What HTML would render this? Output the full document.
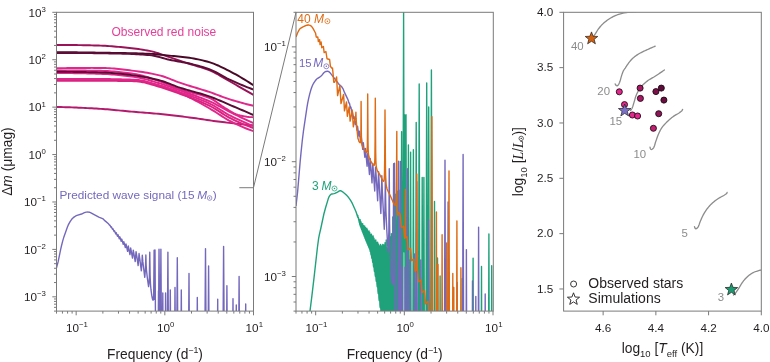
<!DOCTYPE html><html><head><meta charset="utf-8"><style>html,body{margin:0;padding:0;background:#fff;}svg{display:block;will-change:transform;}</style></head><body><svg width="770" height="362" viewBox="0 0 770 362" style="font-family:'Liberation Sans',sans-serif" fill="#231f20">
<defs>
<clipPath id="c1"><rect x="56.5" y="12.3" width="197.0" height="298.8"/></clipPath>
<clipPath id="c2"><rect x="296.0" y="12.3" width="197.3" height="298.8"/></clipPath>
<clipPath id="c3"><rect x="563.6" y="12.3" width="197.69999999999993" height="298.8"/></clipPath>
</defs>
<g clip-path="url(#c1)" fill="none" stroke-width="1.95" stroke-linecap="round">
<path d="M56.5,44.9 L58.71,44.9 L60.93,44.91 L63.14,44.92 L65.35,44.93 L67.57,44.95 L69.78,44.98 L71.99,45 L74.21,45.03 L76.42,45.07 L78.63,45.1 L80.85,45.14 L83.06,45.19 L85.28,45.23 L87.49,45.28 L89.7,45.33 L91.92,45.38 L94.13,45.44 L96.34,45.5 L98.56,45.56 L100.77,45.62 L102.98,45.71 L105.2,45.83 L107.41,45.96 L109.62,46.12 L111.84,46.29 L114.05,46.47 L116.26,46.67 L118.48,46.86 L120.69,47.06 L122.9,47.27 L125.12,47.49 L127.33,47.71 L129.54,47.96 L131.76,48.21 L133.97,48.48 L136.19,48.77 L138.4,49.07 L140.61,49.39 L142.83,49.74 L145.04,50.1 L147.25,50.49 L149.47,50.9 L151.68,51.36 L153.89,51.92 L156.11,52.58 L158.32,53.29 L160.53,54.06 L162.75,54.85 L164.96,55.65 L167.17,56.44 L169.39,57.2 L171.6,57.92 L173.81,58.65 L176.03,59.38 L178.24,60.11 L180.46,60.84 L182.67,61.58 L184.88,62.31 L187.1,63.05 L189.31,63.77 L191.52,64.49 L193.74,65.17 L195.95,65.84 L198.16,66.5 L200.38,67.16 L202.59,67.85 L204.8,68.58 L207.02,69.35 L209.23,70.19 L211.44,71.12 L213.66,72.16 L215.87,73.3 L218.08,74.52 L220.3,75.79 L222.51,77.1 L224.72,78.42 L226.94,79.73 L229.15,81.02 L231.37,82.27 L233.58,83.52 L235.79,84.77 L238.01,86.03 L240.22,87.3 L242.43,88.57 L244.65,89.84 L246.86,91.12 L249.07,92.41 L251.29,93.7 L253.5,95" stroke="#9a1258"/>
<path d="M56.5,52.2 L58.71,52.21 L60.93,52.22 L63.14,52.23 L65.35,52.24 L67.57,52.26 L69.78,52.28 L71.99,52.3 L74.21,52.32 L76.42,52.34 L78.63,52.36 L80.85,52.39 L83.06,52.41 L85.28,52.44 L87.49,52.47 L89.7,52.5 L91.92,52.53 L94.13,52.57 L96.34,52.6 L98.56,52.63 L100.77,52.67 L102.98,52.71 L105.2,52.74 L107.41,52.78 L109.62,52.82 L111.84,52.86 L114.05,52.89 L116.26,52.93 L118.48,52.97 L120.69,53.01 L122.9,53.05 L125.12,53.09 L127.33,53.14 L129.54,53.18 L131.76,53.23 L133.97,53.28 L136.19,53.33 L138.4,53.39 L140.61,53.46 L142.83,53.53 L145.04,53.6 L147.25,53.69 L149.47,53.78 L151.68,53.89 L153.89,54.03 L156.11,54.22 L158.32,54.43 L160.53,54.66 L162.75,54.9 L164.96,55.15 L167.17,55.4 L169.39,55.64 L171.6,55.86 L173.81,56.08 L176.03,56.29 L178.24,56.51 L180.46,56.73 L182.67,56.97 L184.88,57.22 L187.1,57.5 L189.31,57.8 L191.52,58.13 L193.74,58.51 L195.95,58.92 L198.16,59.37 L200.38,59.85 L202.59,60.38 L204.8,60.94 L207.02,61.54 L209.23,62.17 L211.44,62.86 L213.66,63.65 L215.87,64.53 L218.08,65.49 L220.3,66.52 L222.51,67.59 L224.72,68.7 L226.94,69.83 L229.15,70.97 L231.37,72.1 L233.58,73.27 L235.79,74.47 L238.01,75.71 L240.22,76.98 L242.43,78.29 L244.65,79.63 L246.86,81 L249.07,82.4 L251.29,83.84 L253.5,85.3" stroke="#4a0828"/>
<path d="M56.5,52.9 L58.71,52.9 L60.93,52.9 L63.14,52.91 L65.35,52.92 L67.57,52.92 L69.78,52.94 L71.99,52.95 L74.21,52.96 L76.42,52.98 L78.63,53 L80.85,53.02 L83.06,53.04 L85.28,53.06 L87.49,53.08 L89.7,53.11 L91.92,53.14 L94.13,53.17 L96.34,53.2 L98.56,53.23 L100.77,53.26 L102.98,53.3 L105.2,53.33 L107.41,53.37 L109.62,53.41 L111.84,53.45 L114.05,53.49 L116.26,53.53 L118.48,53.57 L120.69,53.61 L122.9,53.67 L125.12,53.73 L127.33,53.8 L129.54,53.88 L131.76,53.98 L133.97,54.08 L136.19,54.2 L138.4,54.33 L140.61,54.47 L142.83,54.62 L145.04,54.78 L147.25,54.96 L149.47,55.15 L151.68,55.39 L153.89,55.77 L156.11,56.24 L158.32,56.8 L160.53,57.4 L162.75,58.03 L164.96,58.65 L167.17,59.24 L169.39,59.77 L171.6,60.23 L173.81,60.65 L176.03,61.05 L178.24,61.44 L180.46,61.83 L182.67,62.22 L184.88,62.64 L187.1,63.07 L189.31,63.54 L191.52,64.05 L193.74,64.59 L195.95,65.15 L198.16,65.73 L200.38,66.35 L202.59,67.01 L204.8,67.7 L207.02,68.44 L209.23,69.22 L211.44,70.07 L213.66,71.06 L215.87,72.17 L218.08,73.35 L220.3,74.59 L222.51,75.85 L224.72,77.09 L226.94,78.28 L229.15,79.4 L231.37,80.43 L233.58,81.43 L235.79,82.42 L238.01,83.39 L240.22,84.34 L242.43,85.27 L244.65,86.18 L246.86,87.07 L249.07,87.94 L251.29,88.78 L253.5,89.6" stroke="#5e0c38"/>
<path d="M56.5,107 L58.71,107.03 L60.93,107.07 L63.14,107.12 L65.35,107.18 L67.57,107.25 L69.78,107.32 L71.99,107.4 L74.21,107.48 L76.42,107.57 L78.63,107.67 L80.85,107.77 L83.06,107.88 L85.28,107.99 L87.49,108.1 L89.7,108.22 L91.92,108.34 L94.13,108.46 L96.34,108.59 L98.56,108.72 L100.77,108.85 L102.98,108.99 L105.2,109.16 L107.41,109.34 L109.62,109.53 L111.84,109.74 L114.05,109.95 L116.26,110.17 L118.48,110.39 L120.69,110.61 L122.9,110.83 L125.12,111.05 L127.33,111.26 L129.54,111.46 L131.76,111.65 L133.97,111.83 L136.19,112.01 L138.4,112.19 L140.61,112.36 L142.83,112.54 L145.04,112.71 L147.25,112.89 L149.47,113.07 L151.68,113.25 L153.89,113.44 L156.11,113.64 L158.32,113.84 L160.53,114.05 L162.75,114.27 L164.96,114.5 L167.17,114.74 L169.39,114.98 L171.6,115.24 L173.81,115.49 L176.03,115.75 L178.24,116.02 L180.46,116.29 L182.67,116.57 L184.88,116.85 L187.1,117.13 L189.31,117.41 L191.52,117.7 L193.74,118 L195.95,118.31 L198.16,118.64 L200.38,118.96 L202.59,119.29 L204.8,119.63 L207.02,119.96 L209.23,120.29 L211.44,120.61 L213.66,120.92 L215.87,121.22 L218.08,121.51 L220.3,121.79 L222.51,122.06 L224.72,122.34 L226.94,122.61 L229.15,122.87 L231.37,123.13 L233.58,123.39 L235.79,123.64 L238.01,123.89 L240.22,124.13 L242.43,124.37 L244.65,124.61 L246.86,124.84 L249.07,125.07 L251.29,125.29 L253.5,125.5" stroke="#b3196d"/>
<path d="M56.5,80 L58.71,80 L60.93,80 L63.14,80 L65.35,80 L67.57,80 L69.78,80 L71.99,80 L74.21,80 L76.42,80 L78.63,80 L80.85,80 L83.06,80 L85.28,80 L87.49,80 L89.7,80 L91.92,80 L94.13,80 L96.34,80 L98.56,80 L100.77,80 L102.98,80 L105.2,80.01 L107.41,80.02 L109.62,80.04 L111.84,80.06 L114.05,80.08 L116.26,80.11 L118.48,80.14 L120.69,80.18 L122.9,80.22 L125.12,80.26 L127.33,80.31 L129.54,80.36 L131.76,80.41 L133.97,80.47 L136.19,80.55 L138.4,80.74 L140.61,81.04 L142.83,81.43 L145.04,81.89 L147.25,82.42 L149.47,83 L151.68,83.62 L153.89,84.26 L156.11,84.9 L158.32,85.53 L160.53,86.15 L162.75,86.78 L164.96,87.46 L167.17,88.18 L169.39,88.93 L171.6,89.72 L173.81,90.54 L176.03,91.4 L178.24,92.28 L180.46,93.19 L182.67,94.14 L184.88,95.15 L187.1,96.2 L189.31,97.3 L191.52,98.43 L193.74,99.59 L195.95,100.78 L198.16,102 L200.38,103.23 L202.59,104.48 L204.8,105.74 L207.02,107 L209.23,108.26 L211.44,109.54 L213.66,110.89 L215.87,112.3 L218.08,113.74 L220.3,115.19 L222.51,116.62 L224.72,118 L226.94,119.33 L229.15,120.56 L231.37,121.69 L233.58,122.8 L235.79,123.87 L238.01,124.92 L240.22,125.93 L242.43,126.91 L244.65,127.85 L246.86,128.76 L249.07,129.62 L251.29,130.43 L253.5,131.2" stroke="#e1278b"/>
<path d="M56.5,80.8 L58.71,80.8 L60.93,80.8 L63.14,80.8 L65.35,80.8 L67.57,80.8 L69.78,80.8 L71.99,80.8 L74.21,80.8 L76.42,80.8 L78.63,80.8 L80.85,80.8 L83.06,80.8 L85.28,80.8 L87.49,80.8 L89.7,80.8 L91.92,80.8 L94.13,80.8 L96.34,80.8 L98.56,80.8 L100.77,80.8 L102.98,80.8 L105.2,80.81 L107.41,80.82 L109.62,80.83 L111.84,80.85 L114.05,80.86 L116.26,80.89 L118.48,80.91 L120.69,80.94 L122.9,80.97 L125.12,81.01 L127.33,81.04 L129.54,81.08 L131.76,81.13 L133.97,81.18 L136.19,81.25 L138.4,81.44 L140.61,81.75 L142.83,82.17 L145.04,82.67 L147.25,83.24 L149.47,83.86 L151.68,84.51 L153.89,85.19 L156.11,85.86 L158.32,86.52 L160.53,87.15 L162.75,87.8 L164.96,88.49 L167.17,89.21 L169.39,89.96 L171.6,90.74 L173.81,91.53 L176.03,92.34 L178.24,93.15 L180.46,93.97 L182.67,94.78 L184.88,95.6 L187.1,96.42 L189.31,97.25 L191.52,98.09 L193.74,98.94 L195.95,99.82 L198.16,100.71 L200.38,101.63 L202.59,102.58 L204.8,103.56 L207.02,104.57 L209.23,105.62 L211.44,106.74 L213.66,107.98 L215.87,109.32 L218.08,110.73 L220.3,112.17 L222.51,113.61 L224.72,115.01 L226.94,116.34 L229.15,117.56 L231.37,118.68 L233.58,119.76 L235.79,120.81 L238.01,121.84 L240.22,122.83 L242.43,123.79 L244.65,124.71 L246.86,125.6 L249.07,126.44 L251.29,127.24 L253.5,128" stroke="#d8237f"/>
<path d="M56.5,79 L58.71,79 L60.93,79 L63.14,79 L65.35,79 L67.57,79 L69.78,79 L71.99,79 L74.21,79 L76.42,79 L78.63,79 L80.85,79 L83.06,79 L85.28,79 L87.49,79 L89.7,79 L91.92,79 L94.13,79 L96.34,79 L98.56,79 L100.77,79 L102.98,79.01 L105.2,79.02 L107.41,79.04 L109.62,79.06 L111.84,79.1 L114.05,79.14 L116.26,79.18 L118.48,79.23 L120.69,79.29 L122.9,79.35 L125.12,79.42 L127.33,79.5 L129.54,79.58 L131.76,79.66 L133.97,79.76 L136.19,79.87 L138.4,80.09 L140.61,80.41 L142.83,80.83 L145.04,81.32 L147.25,81.87 L149.47,82.46 L151.68,83.09 L153.89,83.74 L156.11,84.39 L158.32,85.03 L160.53,85.65 L162.75,86.29 L164.96,86.97 L167.17,87.68 L169.39,88.43 L171.6,89.2 L173.81,89.98 L176.03,90.77 L178.24,91.57 L180.46,92.36 L182.67,93.15 L184.88,93.93 L187.1,94.71 L189.31,95.5 L191.52,96.29 L193.74,97.1 L195.95,97.93 L198.16,98.77 L200.38,99.64 L202.59,100.54 L204.8,101.47 L207.02,102.43 L209.23,103.44 L211.44,104.51 L213.66,105.71 L215.87,107 L218.08,108.35 L220.3,109.75 L222.51,111.15 L224.72,112.52 L226.94,113.83 L229.15,115.06 L231.37,116.19 L233.58,117.29 L235.79,118.37 L238.01,119.43 L240.22,120.45 L242.43,121.46 L244.65,122.43 L246.86,123.37 L249.07,124.28 L251.29,125.16 L253.5,126" stroke="#e1278b"/>
<path d="M56.5,73 L58.71,73 L60.93,73.01 L63.14,73.02 L65.35,73.04 L67.57,73.06 L69.78,73.09 L71.99,73.12 L74.21,73.16 L76.42,73.19 L78.63,73.24 L80.85,73.28 L83.06,73.33 L85.28,73.38 L87.49,73.44 L89.7,73.5 L91.92,73.56 L94.13,73.62 L96.34,73.69 L98.56,73.76 L100.77,73.83 L102.98,73.91 L105.2,74.02 L107.41,74.14 L109.62,74.28 L111.84,74.44 L114.05,74.62 L116.26,74.81 L118.48,75.02 L120.69,75.25 L122.9,75.48 L125.12,75.73 L127.33,76 L129.54,76.27 L131.76,76.56 L133.97,76.86 L136.19,77.18 L138.4,77.56 L140.61,78.01 L142.83,78.52 L145.04,79.08 L147.25,79.68 L149.47,80.31 L151.68,80.97 L153.89,81.64 L156.11,82.31 L158.32,82.99 L160.53,83.66 L162.75,84.36 L164.96,85.09 L167.17,85.85 L169.39,86.64 L171.6,87.44 L173.81,88.25 L176.03,89.06 L178.24,89.87 L180.46,90.66 L182.67,91.44 L184.88,92.21 L187.1,92.97 L189.31,93.73 L191.52,94.49 L193.74,95.26 L195.95,96.04 L198.16,96.83 L200.38,97.64 L202.59,98.48 L204.8,99.34 L207.02,100.23 L209.23,101.17 L211.44,102.15 L213.66,103.22 L215.87,104.35 L218.08,105.54 L220.3,106.76 L222.51,107.99 L224.72,109.21 L226.94,110.41 L229.15,111.57 L231.37,112.68 L233.58,113.78 L235.79,114.87 L238.01,115.94 L240.22,117.01 L242.43,118.07 L244.65,119.12 L246.86,120.16 L249.07,121.18 L251.29,122.2 L253.5,123.2" stroke="#e1278b"/>
<path d="M56.5,70.4 L58.71,70.4 L60.93,70.4 L63.14,70.41 L65.35,70.42 L67.57,70.43 L69.78,70.44 L71.99,70.45 L74.21,70.47 L76.42,70.49 L78.63,70.51 L80.85,70.53 L83.06,70.56 L85.28,70.58 L87.49,70.61 L89.7,70.64 L91.92,70.67 L94.13,70.7 L96.34,70.74 L98.56,70.78 L100.77,70.81 L102.98,70.88 L105.2,70.96 L107.41,71.07 L109.62,71.2 L111.84,71.36 L114.05,71.53 L116.26,71.73 L118.48,71.94 L120.69,72.17 L122.9,72.42 L125.12,72.68 L127.33,72.95 L129.54,73.24 L131.76,73.54 L133.97,73.85 L136.19,74.19 L138.4,74.61 L140.61,75.12 L142.83,75.7 L145.04,76.35 L147.25,77.05 L149.47,77.79 L151.68,78.56 L153.89,79.34 L156.11,80.13 L158.32,80.92 L160.53,81.69 L162.75,82.5 L164.96,83.36 L167.17,84.27 L169.39,85.2 L171.6,86.13 L173.81,87.05 L176.03,87.94 L178.24,88.78 L180.46,89.55 L182.67,90.26 L184.88,90.91 L187.1,91.51 L189.31,92.08 L191.52,92.63 L193.74,93.18 L195.95,93.73 L198.16,94.3 L200.38,94.9 L202.59,95.55 L204.8,96.25 L207.02,97.02 L209.23,97.88 L211.44,98.88 L213.66,100.17 L215.87,101.66 L218.08,103.26 L220.3,104.89 L222.51,106.44 L224.72,107.84 L226.94,109.13 L229.15,110.47 L231.37,111.79 L233.58,113.03 L235.79,114.11 L238.01,114.97 L240.22,115.54 L242.43,115.97 L244.65,116.36 L246.86,116.7 L249.07,116.97 L251.29,117.14 L253.5,117.2" stroke="#e1278b"/>
<path d="M56.5,71.8 L58.71,71.8 L60.93,71.81 L63.14,71.82 L65.35,71.83 L67.57,71.85 L69.78,71.86 L71.99,71.89 L74.21,71.91 L76.42,71.94 L78.63,71.97 L80.85,72.01 L83.06,72.04 L85.28,72.08 L87.49,72.12 L89.7,72.17 L91.92,72.21 L94.13,72.26 L96.34,72.31 L98.56,72.36 L100.77,72.42 L102.98,72.5 L105.2,72.59 L107.41,72.72 L109.62,72.86 L111.84,73.02 L114.05,73.2 L116.26,73.39 L118.48,73.6 L120.69,73.83 L122.9,74.06 L125.12,74.31 L127.33,74.56 L129.54,74.83 L131.76,75.1 L133.97,75.37 L136.19,75.65 L138.4,75.97 L140.61,76.31 L142.83,76.69 L145.04,77.1 L147.25,77.53 L149.47,77.99 L151.68,78.48 L153.89,78.99 L156.11,79.52 L158.32,80.07 L160.53,80.64 L162.75,81.29 L164.96,82.04 L167.17,82.84 L169.39,83.69 L171.6,84.56 L173.81,85.44 L176.03,86.29 L178.24,87.1 L180.46,87.85 L182.67,88.55 L184.88,89.22 L187.1,89.86 L189.31,90.49 L191.52,91.1 L193.74,91.71 L195.95,92.32 L198.16,92.94 L200.38,93.56 L202.59,94.21 L204.8,94.89 L207.02,95.59 L209.23,96.33 L211.44,97.12 L213.66,97.97 L215.87,98.86 L218.08,99.79 L220.3,100.75 L222.51,101.73 L224.72,102.71 L226.94,103.68 L229.15,104.64 L231.37,105.58 L233.58,106.51 L235.79,107.45 L238.01,108.39 L240.22,109.33 L242.43,110.27 L244.65,111.22 L246.86,112.16 L249.07,113.11 L251.29,114.05 L253.5,115" stroke="#5a0b35"/>
<path d="M56.5,68.3 L58.71,68.24 L60.93,68.19 L63.14,68.14 L65.35,68.1 L67.57,68.07 L69.78,68.03 L71.99,68.01 L74.21,67.98 L76.42,67.96 L78.63,67.95 L80.85,67.93 L83.06,67.92 L85.28,67.92 L87.49,67.91 L89.7,67.91 L91.92,67.9 L94.13,67.9 L96.34,67.9 L98.56,67.9 L100.77,67.9 L102.98,67.94 L105.2,68.01 L107.41,68.11 L109.62,68.24 L111.84,68.4 L114.05,68.59 L116.26,68.8 L118.48,69.02 L120.69,69.26 L122.9,69.52 L125.12,69.78 L127.33,70.05 L129.54,70.33 L131.76,70.6 L133.97,70.87 L136.19,71.15 L138.4,71.44 L140.61,71.75 L142.83,72.08 L145.04,72.44 L147.25,72.82 L149.47,73.23 L151.68,73.66 L153.89,74.11 L156.11,74.59 L158.32,75.1 L160.53,75.63 L162.75,76.26 L164.96,77 L167.17,77.81 L169.39,78.67 L171.6,79.56 L173.81,80.46 L176.03,81.34 L178.24,82.18 L180.46,82.95 L182.67,83.69 L184.88,84.4 L187.1,85.1 L189.31,85.78 L191.52,86.46 L193.74,87.13 L195.95,87.79 L198.16,88.46 L200.38,89.13 L202.59,89.82 L204.8,90.51 L207.02,91.22 L209.23,91.94 L211.44,92.7 L213.66,93.49 L215.87,94.3 L218.08,95.14 L220.3,95.98 L222.51,96.81 L224.72,97.62 L226.94,98.4 L229.15,99.13 L231.37,99.82 L233.58,100.5 L235.79,101.16 L238.01,101.8 L240.22,102.43 L242.43,103.04 L244.65,103.63 L246.86,104.21 L249.07,104.76 L251.29,105.29 L253.5,105.8" stroke="#e1278b"/>
</g>
<g clip-path="url(#c1)" fill="none" stroke="#7468bd" stroke-width="1.4" stroke-linejoin="round"><path d="M56.5,267.7 L58.1,261.9 L60.62,249.6 L61.5,245.76 L62.74,240.88 L63.9,236.92 L67.42,227.03 L68.18,225.18 L69.1,223.32 L70.1,221.59 L71.3,219.83 L72.34,218.56 L73.3,217.64 L74.34,216.85 L75.74,215.98 L77.02,215.36 L81.58,214.03 L84.38,212.68 L85.34,212.32 L86.14,212.16 L88.3,212.07 L89.3,212.21 L90.46,212.63 L98.82,217.08 L102.58,218.67 L103.42,219.21 L105.1,220.9 L108.46,223.78 L108.94,224.36 L109.46,225.21 L109.9,225.16 L110.94,227.2 L111.39,226.85 L112.46,229.23 L112.94,228.78 L114.06,231.54 L114.55,230.77 L115.74,233.93 L116.23,232.72 L117.46,236.35 L118,234.71 L119.3,238.78 L119.84,236.81 L121.18,241.38 L121.78,239.07 L123.22,244.32 L123.82,241.59 L125.34,247.56 L125.98,243.91 L127.58,251.3 L128.26,246 L129.94,254.66 L130.69,248.06 L132.5,258.16 L133.29,250.09 L135.22,261.51 L136.06,251.62 L137.1,258.03 L138.14,265.56 L139.06,253.5 L141.34,270.81 L141.98,261.88 L142.31,255.2 L142.86,261.89 L144.78,277.31 L145.5,268.07 L145.86,255.07 L146.14,264.73 L146.46,270 L147.42,278.53 L148.58,286.56 L149.1,282.17 L149.38,277.33 L149.76,252.28 L150.1,274.98 L150.46,283.88 L150.98,289.71 L151.7,295.15 L152.42,298.86 L152.74,299.78 L153.02,300.18 L153.14,300.15 L153.26,299.9 L153.46,298.58 L153.7,293.2 L154.12,250.25 L154.42,285.4 L154.66,299.4 L155,250 L155.42,310.72 L155.98,314.23 L156.86,318.51 L157.42,320.63 L157.62,321.12 L157.82,321.32 L157.98,321.14 L158.1,320.66 L158.3,318.67 L158.5,291 L158.62,306.69 L159.02,249.2 L159.54,313.79 L159.86,325.53 L160.34,332.3 L160.9,249.3 L161.5,339.48 L162.46,343.21 L162.8,293 L163.3,368.46 L165.1,368.46 L165.6,293 L166.1,368.46 L167.14,368.46 L167.9,252.3 L168.66,368.46 L169.78,368.46 L170.3,290 L170.82,368.46 L174.46,368.46 L175,287.5 L175.54,368.46 L176.58,368.46 L177.3,257.7 L178.02,368.46 L180.78,368.46 L181.3,290 L181.82,368.46 L188.38,368.46 L189,273.5 L189.62,368.46 L196.82,368.46 L197.3,297.4 L197.78,368.46 L204.7,368.46 L205.5,248.8 L206.3,368.46 L207.94,368.46 L208.6,266 L209.26,368.46 L217.22,368.46 L217.26,368.35 L217.7,299.3 L218.14,368.35 L218.18,368.46 L222.82,368.46 L223.6,246.4 L224.38,368.46 L226.34,368.46 L226.38,367.3 L226.9,285.7 L227.46,368.46 L232.54,368.46 L233,298.6 L233.46,368.46 L235.86,368.46 L235.9,367.77 L236.3,305 L236.7,367.77 L236.74,368.46 L238.5,368.46 L239.1,276.5 L239.7,368.46 L245.26,368.46 L245.7,304 L246.14,368.46 L254.46,368.46"/></g>
<g clip-path="url(#c2)" fill="none" stroke-width="1.4" stroke-linejoin="round">
<path d="M300,433.22 L301.6,405.52 L303.2,381.05 L304.84,359.22 L306.48,340.56 L308.12,324.97 L310,311 L311.96,295.33 L314.04,277.65 L317.44,247.26 L318.64,238.35 L319.32,234.8 L320.84,228.27 L323.88,213.98 L325.64,207.54 L328.16,199.09 L328.86,197.16 L330.08,195.24 L330.64,194.61 L331.16,194.21 L331.96,193.94 L333.96,193.6 L334.84,193.36 L337.48,192.11 L339.44,190.92 L340.08,190.72 L340.64,190.73 L341.52,191.06 L342.6,191.8 L345.24,193.93 L347.16,195.84 L348.64,197.57 L349.76,199.11 L351.04,201.15 L352.44,203.67 L355.92,211.54 L356.76,213.93 L357.68,217.01 L357.78,215.4 L357.92,216.66 L358.2,217.84 L358.28,217.86 L358.36,217.13 L358.48,218.87 L358.76,220.19 L358.84,220.26 L358.88,220.02 L358.95,218.9 L359.08,221.34 L359.32,222.55 L359.4,222.71 L359.44,222.63 L359.55,220.62 L359.64,223.27 L359.88,224.91 L359.96,224.98 L360.04,224.51 L360.15,219.72 L360.28,225.34 L360.48,226.5 L360.56,226.59 L360.6,226.53 L360.68,225.71 L360.77,221.41 L360.88,226.69 L360.96,227.57 L361.12,228.16 L361.2,228.21 L361.28,227.81 L361.39,223.07 L361.52,228.57 L361.72,229.73 L361.84,229.86 L361.92,229.43 L362.03,224.71 L362.16,230.01 L362.24,230.89 L362.4,231.48 L362.48,231.48 L362.56,230.88 L362.68,223.73 L362.8,231.54 L362.88,232.52 L363.04,233.15 L363.12,233.21 L363.16,233.11 L363.24,232.12 L363.34,225.33 L363.44,232.79 L363.52,234.08 L363.68,234.83 L363.76,234.95 L363.84,234.8 L363.92,233.51 L364.01,226.92 L364.12,234.79 L364.2,235.9 L364.4,236.66 L364.52,236.44 L364.6,234.76 L364.69,225.92 L364.76,234.16 L364.88,237.56 L365.08,238.41 L365.16,238.4 L365.24,237.9 L365.38,227.55 L365.52,238.49 L365.68,239.84 L365.84,240.12 L365.92,239.86 L366.09,229.22 L366.2,239.51 L366.28,240.9 L366.48,241.78 L366.56,241.81 L366.64,241.44 L366.72,239.36 L366.81,228.3 L366.88,238.48 L367,242.53 L367.24,243.57 L367.32,243.5 L367.4,242.85 L367.54,229.99 L367.68,243.42 L367.88,245.14 L368.04,245.34 L368.12,244.99 L368.29,231.72 L368.4,244.36 L368.52,246.4 L368.72,247.14 L368.8,247.13 L368.88,246.7 L368.96,244.39 L369.05,230.89 L369.12,242.6 L369.24,247.73 L369.48,248.98 L369.56,249.01 L369.6,248.93 L369.68,248.24 L369.83,232.75 L369.96,248.49 L370.12,250.79 L370.32,251.65 L370.4,251.66 L370.44,251.47 L370.56,246.4 L370.62,234.71 L370.76,251.85 L370.88,253.81 L371.12,254.98 L371.2,254.97 L371.24,254.76 L371.32,253.01 L371.43,234.16 L371.6,255.73 L371.72,257.37 L371.88,258.24 L371.96,258.43 L372.04,258.32 L372.12,257.29 L372.26,236.28 L372.4,258.28 L372.52,260.78 L372.8,262.5 L372.88,262.48 L372.92,262.21 L373,259.94 L373.11,235.87 L373.28,263.54 L373.4,265.56 L373.64,267 L373.72,267.03 L373.76,266.84 L373.84,265.2 L373.97,238.15 L374.12,267.01 L374.24,269.83 L374.52,271.67 L374.6,271.69 L374.68,270.98 L374.76,267.2 L374.86,240.4 L375,271.19 L375.16,274.88 L375.44,276.46 L375.52,276.32 L375.6,275.13 L375.68,269.07 L375.77,240.07 L375.92,276.22 L376.08,279.77 L376.36,281.35 L376.44,281.21 L376.52,280.08 L376.6,274.58 L376.69,242.47 L376.84,280.44 L376.96,284.03 L377.12,285.81 L377.32,286.91 L377.4,286.77 L377.48,285.38 L377.56,277.44 L377.64,242.23 L377.8,286.76 L377.96,291.26 L378.28,293.65 L378.36,293.51 L378.44,292.2 L378.52,285.9 L378.62,244.29 L378.76,291.98 L378.92,297.79 L379.08,299.6 L379.28,300.6 L379.44,298.83 L379.52,291.76 L379.62,245.83 L379.76,298.01 L379.92,304.65 L380.08,306.6 L380.28,307.69 L380.36,307.54 L380.44,306.34 L380.52,301.35 L380.65,244.56 L380.8,305.7 L380.96,312.25 L381.12,314.43 L381.32,315.75 L381.44,315.36 L381.52,313.19 L381.6,303.83 L381.7,245.86 L381.84,311.55 L382,320.38 L382.16,322.94 L382.4,324.58 L382.52,323.97 L382.6,321.43 L382.68,311.17 L382.79,244.33 L382.96,322.92 L383.12,330.09 L383.32,333.19 L383.52,334.56 L383.64,333.78 L383.72,330.62 L383.8,317.76 L383.9,244.93 L384.08,333.08 L384.28,341.93 L384.44,344.37 L384.64,345.83 L384.76,345.22 L384.84,342.7 L384.92,333.6 L385.05,242.74 L385.2,338.4 L385.36,351.27 L385.56,355.46 L385.8,357.46 L385.92,356.96 L386.24,239.89 L386.8,450 L386.92,450 L386.96,437.76 L387.46,248 L388,450 L388.12,450 L388.16,449.28 L388.72,235.73 L389.28,447.77 L389.32,450 L389.44,450 L389.48,444.73 L390.03,236.71 L390.56,439.09 L390.6,450 L390.8,450 L391.38,233.58 L391.92,439.28 L391.96,450 L392.16,450 L392.78,217.03 L393.4,450 L393.56,450 L393.6,449.21 L394.23,208.93 L394.84,439.84 L394.88,450 L395.04,450 L395.74,194.17 L396.4,443.99 L396.44,450 L396.6,450 L397.31,191.18 L398,450 L398.24,450 L398.95,190.08 L399.64,450 L400,450 L400.67,205.78 L401.04,344.4 L401.6,131.6 L402.44,450 L403.6,12 L404.24,251.8 L404.6,115 L405.28,373.4 L406,114.7 L406.92,450 L407.56,450 L407.6,448.9 L408.4,144.9 L409.2,448.9 L409.24,450 L409.8,450 L410.6,152.3 L411.4,450 L412.6,450 L413.4,149.8 L414.2,450 L415.32,450 L416.2,122.5 L417.08,450 L418.2,450 L419.2,84 L420.16,448.8 L420.2,450 L421.48,450 L422.2,177.5 L422.92,450 L423.16,450 L423.9,177.5 L424.64,450 L425.72,450 L426.7,83 L427.68,450 L427.76,450 L427.8,449 L428.7,107 L429.6,449 L429.64,450 L430.4,450 L431.4,70 L432.4,450 L433.84,450 L434.5,201.5 L435.16,450 L436.96,450 L437,448 L437.5,258 L438.04,450 L439.64,450 L440.1,276 L440.56,450 L461.72,450 L462.2,278.5 L462.68,450 L472.56,450 L473.1,258.1 L473.64,450 L481,450 L481.5,266.5 L482,450 L488.32,450 L488.9,234 L489.48,450 L491.2,450 L491.7,265.8 L492.2,450 L493.96,450" stroke="#1fa27a"/>
<path d="M296,206 L297.6,191.96 L300.12,162.18 L301,152.86 L302.24,141.05 L303.4,131.47 L306.92,107.53 L307.68,103.04 L308.6,98.54 L309.6,94.36 L310.8,90.07 L311.84,87 L312.8,84.79 L313.84,82.86 L315.24,80.77 L316.52,79.27 L317.68,78.31 L320.08,76.8 L321.08,76.05 L321.92,75.17 L323.88,72.78 L324.84,71.89 L325.64,71.51 L327.8,71.3 L328.28,71.38 L328.8,71.63 L329.96,72.66 L338.32,83.43 L339.2,84.43 L341.2,86.29 L342.08,87.27 L342.92,88.58 L344.6,92.67 L347.96,99.66 L348.44,101.05 L348.96,103.11 L349.16,103.16 L349.4,102.99 L350.44,107.93 L350.89,107.09 L351.96,112.85 L352.44,111.75 L353.56,118.44 L354.05,116.57 L355.24,124.24 L355.73,121.29 L356.96,130.09 L357.5,126.13 L358.8,135.96 L359.34,131.2 L360.68,142.27 L361.28,136.69 L362.72,149.39 L363.32,142.79 L364.84,157.24 L365.48,148.39 L367.08,166.3 L367.76,153.45 L369.44,174.43 L370.19,158.44 L372,182.91 L372.79,163.36 L374.72,191.02 L375.56,167.08 L376.6,182.59 L377.64,200.83 L378.56,171.63 L380.84,213.52 L381.48,191.9 L381.81,175.73 L382.36,191.93 L384.28,229.28 L385,206.89 L385.36,175.42 L385.64,198.81 L385.96,211.58 L386.92,232.22 L388.08,251.69 L388.6,241.04 L388.88,229.32 L389.26,168.66 L389.6,223.63 L389.96,245.2 L390.48,259.3 L391.2,272.47 L391.92,281.45 L392.24,283.68 L392.52,284.66 L392.64,284.59 L392.76,283.98 L392.96,280.79 L393.2,267.75 L393.62,163.76 L393.92,248.87 L394.16,282.76 L394.5,163.14 L394.92,310.18 L395.48,318.68 L396.36,329.05 L396.92,334.18 L397.12,335.37 L397.32,335.86 L397.48,335.41 L397.6,334.25 L397.8,329.43 L398,262.43 L398.12,300.42 L398.52,161.21 L399.04,317.62 L399.36,346.03 L399.84,362.44 L400.4,161.45 L401,379.81 L401.96,388.86 L402.3,267.27 L402.8,450 L404.6,450 L405.1,267.27 L405.6,450 L406.64,450 L407.4,168.71 L408.16,450 L409.28,450 L409.8,260.01 L410.32,450 L413.96,450 L414.5,253.95 L415.04,450 L416.08,450 L416.8,181.79 L417.52,450 L420.28,450 L420.8,260.01 L421.32,450 L427.88,450 L428.5,220.05 L429.12,450 L436.32,450 L436.8,277.92 L437.28,450 L444.2,450 L445,160.24 L445.8,450 L447.44,450 L448.1,201.89 L448.76,450 L456.72,450 L456.76,449.73 L457.2,282.53 L457.64,449.73 L457.68,450 L462.32,450 L463.1,154.43 L463.88,450 L465.84,450 L465.88,447.19 L466.4,249.59 L466.96,450 L472.04,450 L472.5,280.83 L472.96,450 L475.36,450 L475.4,448.33 L475.8,296.33 L476.2,448.33 L476.24,450 L478,450 L478.6,227.31 L479.2,450 L484.76,450 L485.2,293.91 L485.64,450 L493.96,450" stroke="#7468bd"/>
<path d="M296,36.9 L297.76,32.49 L298.72,30.64 L299.48,29.42 L300,28.8 L300.84,28.1 L303.4,26.61 L304.68,26.02 L306.96,25.21 L308,25.01 L308.88,25.05 L310.16,25.41 L310.88,25.78 L311.76,26.69 L312.84,28.15 L315.6,33.26 L316.28,37.08 L317.08,37.25 L317.8,37 L318.36,41.63 L318.88,40.94 L319.6,39.67 L320.04,44.6 L321.1,42 L321.8,47.75 L322.48,47.11 L323.4,46.5 L324.16,52.58 L325.9,51.5 L327,58.72 L329.6,59.5 L330.48,66.76 L331,66.85 L331.44,67.73 L331.84,68.17 L332.16,68.25 L332.5,68 L333.08,73.79 L333.76,82.08 L334.16,82.38 L334.52,82.33 L335.48,80.19 L336.6,77 L337.6,95.67 L339.9,85.5 L341,103.61 L343.6,94.5 L344.48,110.89 L346.5,102 L347.32,116.24 L349.2,107 L350.12,121.09 L351.2,115.81 L352.2,110 L353.32,126.75 L354.2,122.57 L355,118.15 L355.68,116.29 L355.9,112.2 L356.12,118.4 L356.48,123.91 L357.04,130.2 L358,138.84 L358.28,139.12 L358.52,139.63 L359,141.48 L359.84,142.55 L360.08,142.73 L360.28,142.75 L360.52,142.31 L360.68,141.15 L360.8,138.76 L360.96,126.95 L361.1,101.4 L361.36,134.3 L361.48,139.45 L361.68,142.88 L362.04,145.08 L362.72,146.83 L364.64,149.96 L366.4,152.23 L366.64,152.33 L366.8,152.22 L367.08,151.09 L367.36,145.18 L367.52,130.46 L367.7,94 L368,140.97 L368.16,148.95 L368.4,153.47 L368.6,155.21 L368.92,156.82 L369.36,158.25 L370,159.84 L372.24,163.55 L373.08,164.73 L373.64,165.32 L373.96,165.45 L374.2,165.3 L374.52,164.26 L374.72,162.18 L374.88,158.06 L375.08,141.84 L375.3,98.1 L375.68,151.64 L375.88,160.68 L376.16,165.56 L376.6,168.52 L377.32,170.65 L378.32,172.49 L380,175 L382.16,179.47 L382.8,180.57 L383.28,181.16 L383.56,181.27 L383.8,181.07 L384.12,179.8 L384.36,176.82 L384.52,172.07 L384.72,156.81 L385,110 L385.44,166.67 L385.68,177.45 L386.08,184.02 L386.6,187.24 L387,188.67 L387.52,190.06 L388.48,192.13 L390,194.98 L393.4,202.69 L394.2,204.22 L394.8,205.06 L395.12,205.23 L395.36,205.1 L395.56,204.69 L395.76,203.75 L396.04,200.62 L396.24,195.26 L396.48,178 L396.8,131.5 L397,202.17 L397.16,209.83 L397.32,212.21 L397.52,213.69 L397.96,215.65 L398,213.62 L398.16,212.66 L398.32,212.38 L398.56,212.45 L398.84,212.35 L399.12,212.55 L400.3,214.61 L401.28,227.02 L401.32,227.14 L401.84,227.17 L402.52,227.09 L403,226.81 L403.6,226.15 L404.6,238.07 L404.64,238.31 L405.24,237.86 L405.4,189.4 L405.56,237.62 L407,236.74 L408.08,249.58 L410.5,248.59 L411.56,260.64 L414,259.2 L415.04,271.04 L415.08,271.13 L416.52,270.19 L416.8,173.9 L417.08,269.8 L417.5,269.51 L418.56,281.72 L419.8,280.92 L421,279.94 L422.04,292.61 L422.08,292.7 L422.64,292.24 L424.5,290.46 L425.56,303.73 L428,301.21 L429.08,314.79 L430.44,313.47 L431.36,312.83 L431.9,116.6 L432.48,326.62 L435.96,339.85 L436,364 L436.4,212 L437.04,450 L437.48,450 L437.52,446.9 L438,264.5 L438.52,450 L441.52,450 L442.1,234.7 L442.68,450 L446.12,450 L446.16,448.1 L446.7,242.9 L447.24,448.1 L447.28,450 L448.24,450 L449,171 L449.76,450 L452.32,450 L452.8,273.4 L453.28,450 L453.36,450 L453.4,439.4 L453.8,287.4 L454.24,450 L456.28,450 L456.9,221 L457.52,450 L460.4,450 L460.9,267.8 L461.4,450 L493.96,450" stroke="#df6a12"/>
</g>
<g fill="none" stroke="#7a7a7a" stroke-width="1">
<rect x="56.5" y="12.3" width="197" height="298.8"/>
<rect x="296.0" y="12.3" width="197.3" height="298.8"/>
<rect x="563.6" y="12.3" width="197.7" height="298.8"/>
<path d="M56.5,311.1v2.5M62.44,311.1v2.5M67.58,311.1v2.5M72.11,311.1v2.5M76.17,311.1v4.2M102.86,311.1v2.5M118.47,311.1v2.5M129.55,311.1v2.5M138.14,311.1v2.5M145.16,311.1v2.5M151.1,311.1v2.5M156.24,311.1v2.5M160.78,311.1v2.5M164.84,311.1v4.2M191.53,311.1v2.5M207.14,311.1v2.5M218.22,311.1v2.5M226.81,311.1v2.5M233.83,311.1v2.5M239.77,311.1v2.5M244.91,311.1v2.5M249.44,311.1v2.5M253.5,311.1v4.2M296,311.1v2.5M301.94,311.1v2.5M307.08,311.1v2.5M311.61,311.1v2.5M315.67,311.1v4.2M342.36,311.1v2.5M357.97,311.1v2.5M369.05,311.1v2.5M377.64,311.1v2.5M384.66,311.1v2.5M390.6,311.1v2.5M395.74,311.1v2.5M400.28,311.1v2.5M404.34,311.1v4.2M431.03,311.1v2.5M446.64,311.1v2.5M457.72,311.1v2.5M466.31,311.1v2.5M473.33,311.1v2.5M479.27,311.1v2.5M484.41,311.1v2.5M488.94,311.1v2.5M493,311.1v4.2M56.5,311.1h-2.5M56.5,307.35h-2.5M56.5,304.17h-2.5M56.5,301.42h-2.5M56.5,298.99h-2.5M56.5,296.82h-4.2M56.5,282.55h-2.5M56.5,274.2h-2.5M56.5,268.27h-2.5M56.5,263.68h-2.5M56.5,259.92h-2.5M56.5,256.75h-2.5M56.5,254h-2.5M56.5,251.57h-2.5M56.5,249.4h-4.2M56.5,235.13h-2.5M56.5,226.78h-2.5M56.5,220.85h-2.5M56.5,216.26h-2.5M56.5,212.5h-2.5M56.5,209.33h-2.5M56.5,206.58h-2.5M56.5,204.15h-2.5M56.5,201.98h-4.2M56.5,187.71h-2.5M56.5,179.36h-2.5M56.5,173.43h-2.5M56.5,168.84h-2.5M56.5,165.08h-2.5M56.5,161.91h-2.5M56.5,159.16h-2.5M56.5,156.73h-2.5M56.5,154.56h-4.2M56.5,140.29h-2.5M56.5,131.94h-2.5M56.5,126.01h-2.5M56.5,121.42h-2.5M56.5,117.66h-2.5M56.5,114.49h-2.5M56.5,111.74h-2.5M56.5,109.31h-2.5M56.5,107.14h-4.2M56.5,92.87h-2.5M56.5,84.52h-2.5M56.5,78.59h-2.5M56.5,74h-2.5M56.5,70.24h-2.5M56.5,67.07h-2.5M56.5,64.32h-2.5M56.5,61.89h-2.5M56.5,59.72h-4.2M56.5,45.45h-2.5M56.5,37.1h-2.5M56.5,31.17h-2.5M56.5,26.58h-2.5M56.5,22.82h-2.5M56.5,19.65h-2.5M56.5,16.9h-2.5M56.5,14.47h-2.5M56.5,12.3h-4.2M296,311.1h-2.5M296,302.01h-2.5M296,294.32h-2.5M296,287.66h-2.5M296,281.79h-2.5M296,276.53h-4.2M296,241.96h-2.5M296,221.74h-2.5M296,207.4h-2.5M296,196.27h-2.5M296,187.18h-2.5M296,179.49h-2.5M296,172.83h-2.5M296,166.95h-2.5M296,161.7h-4.2M296,127.13h-2.5M296,106.91h-2.5M296,92.56h-2.5M296,81.44h-2.5M296,72.34h-2.5M296,64.66h-2.5M296,58h-2.5M296,52.12h-2.5M296,46.87h-4.2M296,12.3h-2.5M603.14,311.1v4.2M655.86,311.1v4.2M708.58,311.1v4.2M761.3,311.1v4.2M563.6,288.97h-4.2M563.6,233.63h-4.2M563.6,178.3h-4.2M563.6,122.97h-4.2M563.6,67.63h-4.2M563.6,12.3h-4.2"/>
<path d="M239.3,187.71H253.5L296.0,12.3"/>
</g>
<g font-size="11.7">
<text x="45.8" y="301.02" text-anchor="end" font-size="11.7">10<tspan dy="-4.8" font-size="7.8">−3</tspan></text>
<text x="45.8" y="253.6" text-anchor="end" font-size="11.7">10<tspan dy="-4.8" font-size="7.8">−2</tspan></text>
<text x="45.8" y="206.18" text-anchor="end" font-size="11.7">10<tspan dy="-4.8" font-size="7.8">−1</tspan></text>
<text x="45.8" y="158.76" text-anchor="end" font-size="11.7">10<tspan dy="-4.8" font-size="7.8">0</tspan></text>
<text x="45.8" y="111.34" text-anchor="end" font-size="11.7">10<tspan dy="-4.8" font-size="7.8">1</tspan></text>
<text x="45.8" y="63.92" text-anchor="end" font-size="11.7">10<tspan dy="-4.8" font-size="7.8">2</tspan></text>
<text x="45.8" y="16.5" text-anchor="end" font-size="11.7">10<tspan dy="-4.8" font-size="7.8">3</tspan></text>
<text x="285.8" y="51.07" text-anchor="end" font-size="11.7">10<tspan dy="-4.8" font-size="7.8">−1</tspan></text>
<text x="285.8" y="165.9" text-anchor="end" font-size="11.7">10<tspan dy="-4.8" font-size="7.8">−2</tspan></text>
<text x="285.8" y="280.73" text-anchor="end" font-size="11.7">10<tspan dy="-4.8" font-size="7.8">−3</tspan></text>
<text x="76.97" y="331.9" text-anchor="middle" font-size="11.7">10<tspan dy="-4.8" font-size="7.8">−1</tspan></text>
<text x="316.47" y="331.9" text-anchor="middle" font-size="11.7">10<tspan dy="-4.8" font-size="7.8">−1</tspan></text>
<text x="165.64" y="331.9" text-anchor="middle" font-size="11.7">10<tspan dy="-4.8" font-size="7.8">0</tspan></text>
<text x="405.14" y="331.9" text-anchor="middle" font-size="11.7">10<tspan dy="-4.8" font-size="7.8">0</tspan></text>
<text x="254.3" y="331.9" text-anchor="middle" font-size="11.7">10<tspan dy="-4.8" font-size="7.8">1</tspan></text>
<text x="493.8" y="331.9" text-anchor="middle" font-size="11.7">10<tspan dy="-4.8" font-size="7.8">1</tspan></text>
<text x="603.14" y="332.1" text-anchor="middle">4.6</text>
<text x="655.86" y="332.1" text-anchor="middle">4.4</text>
<text x="708.58" y="332.1" text-anchor="middle">4.2</text>
<text x="761.3" y="332.1" text-anchor="middle">4.0</text>
<text x="553.3" y="292.77" text-anchor="end">1.5</text>
<text x="553.3" y="237.43" text-anchor="end">2.0</text>
<text x="553.3" y="182.1" text-anchor="end">2.5</text>
<text x="553.3" y="126.77" text-anchor="end">3.0</text>
<text x="553.3" y="71.43" text-anchor="end">3.5</text>
<text x="553.3" y="16.1" text-anchor="end">4.0</text>
</g>
<g font-size="13.8">
<text transform="translate(11.8,161.6) rotate(-90)" text-anchor="middle">Δ<tspan font-style="italic">m</tspan> (μmag)</text>
<text x="155" y="358.5" text-anchor="middle">Frequency (d<tspan dy="-5.5" font-size="8.8">−1</tspan><tspan dy="5.5">)</tspan></text>
<text x="394.65" y="358.5" text-anchor="middle">Frequency (d<tspan dy="-5.5" font-size="8.8">−1</tspan><tspan dy="5.5">)</tspan></text>
<text x="662.45" y="352.9" text-anchor="middle">log<tspan dy="3.8" font-size="9.5">10</tspan><tspan dy="-3.8"> [</tspan><tspan font-style="italic">T</tspan><tspan dy="3.8" font-size="9.5">eff</tspan><tspan dy="-3.8"> (K)]</tspan></text>
<text transform="translate(522.9,161.6) rotate(-90)" text-anchor="middle">log<tspan dy="3.8" font-size="9.5">10</tspan><tspan dy="-3.8"> [</tspan><tspan font-family="Liberation Serif" font-style="italic">L</tspan>/<tspan font-family="Liberation Serif" font-style="italic">L</tspan><tspan font-size="9.5"> </tspan>)]</text>
</g>
<circle cx="521.2" cy="138.4" r="2.2" fill="none" stroke="#231f20" stroke-width="0.7"/><circle cx="521.2" cy="138.4" r="0.66" fill="#231f20"/>
<text x="111.5" y="36.2" font-size="12" fill="#e6409a">Observed red noise</text>
<g font-size="11.8" fill="#7468bd"><text x="59.4" y="198.8">Predicted wave signal (15</text><text x="197.2" y="198.8" font-style="italic">M</text><text x="212.8" y="198.8">)</text></g>
<circle cx="209.6" cy="198" r="2.3" fill="none" stroke="#7468bd" stroke-width="0.7"/><circle cx="209.6" cy="198" r="0.69" fill="#7468bd"/>
<g font-size="12"><text x="297.3" y="22.6" fill="#df6a12">40</text><text x="314" y="22.6" fill="#df6a12" font-style="italic">M</text><text x="299" y="67.2" fill="#7468bd" font-size="11.3">15</text><text x="313.2" y="67.2" fill="#7468bd" font-style="italic">M</text><text x="312" y="189.7" fill="#1fa27a">3</text><text x="321.6" y="189.7" fill="#1fa27a" font-style="italic">M</text></g>
<circle cx="327.4" cy="21.2" r="2.5" fill="none" stroke="#df6a12" stroke-width="0.75"/><circle cx="327.4" cy="21.2" r="0.75" fill="#df6a12"/>
<circle cx="326.3" cy="66.3" r="2.5" fill="none" stroke="#7468bd" stroke-width="0.75"/><circle cx="326.3" cy="66.3" r="0.75" fill="#7468bd"/>
<circle cx="334.5" cy="188.5" r="2.5" fill="none" stroke="#1fa27a" stroke-width="0.75"/><circle cx="334.5" cy="188.5" r="0.75" fill="#1fa27a"/>
<g clip-path="url(#c3)" fill="none" stroke="#8c8c8c" stroke-width="1.3" stroke-linecap="round">
<path d="M591.5,38.4 L592.15,37.73 L592.78,37.05 L593.4,36.36 L593.99,35.65 L594.56,34.92 L595.09,34.17 L595.6,33.4 L596.08,32.61 L596.56,31.81 L597.05,31.02 L597.55,30.24 L598.08,29.49 L598.63,28.74 L599.19,27.99 L599.76,27.26 L600.35,26.53 L600.95,25.83 L601.57,25.15 L602.2,24.49 L602.87,23.85 L603.55,23.22 L604.25,22.61 L604.96,22.01 L605.69,21.42 L606.43,20.86 L607.18,20.31 L607.93,19.78 L608.69,19.27 L609.47,18.76 L610.25,18.26 L611.05,17.77 L611.86,17.31 L612.68,16.86 L613.51,16.44 L614.34,16.05 L615.18,15.68 L616.03,15.33 L616.89,14.99 L617.76,14.67 L618.64,14.36 L619.53,14.06 L620.42,13.79 L621.32,13.55 L622.21,13.33 L623.11,13.14 L624.02,12.96 L624.93,12.81 L625.85,12.67 L626.77,12.54 L627.69,12.43 L628.61,12.34 L629.53,12.25 L630.45,12.16 L631.37,12.08 L632.3,12 L633.22,11.93 L634.15,11.88 L635.07,11.83 L636,11.8"/>
<path d="M615.2,83.9 L615.6,84.87 L616.4,85.55 L617.28,85.78 L618,85.29 L618.65,84.36 L619.21,83.27 L619.65,82.28 L620,81.35 L620.3,80.37 L620.56,79.37 L620.81,78.36 L621.08,77.35 L621.38,76.37 L621.69,75.38 L622,74.4 L622.33,73.42 L622.68,72.45 L623.06,71.51 L623.5,70.61 L624.04,69.74 L624.63,68.89 L625.23,68.05 L625.8,67.19 L626.36,66.33 L626.93,65.47 L627.5,64.62 L628.08,63.77 L628.68,62.94 L629.31,62.14 L629.95,61.34 L630.62,60.55 L631.31,59.78 L632.01,59.03 L632.74,58.31 L633.49,57.63 L634.27,56.98 L635.08,56.35 L635.92,55.75 L636.77,55.16 L637.64,54.6 L638.51,54.05 L639.39,53.53 L640.28,53.04 L641.18,52.56 L642.1,52.1 L643.03,51.65 L643.96,51.21 L644.89,50.78 L645.82,50.34 L646.75,49.91 L647.68,49.48 L648.61,49.05 L649.54,48.63 L650.48,48.21 L651.42,47.8 L652.36,47.39 L653.31,46.99 L654.25,46.59 L655.2,46.2"/>
<path d="M630.5,110.5 L631.1,109.77 L631.65,109.01 L632.09,108.21 L632.45,107.38 L632.77,106.51 L633.05,105.61 L633.32,104.71 L633.58,103.8 L633.85,102.9 L634.12,102.01 L634.39,101.11 L634.64,100.21 L634.89,99.31 L635.15,98.41 L635.41,97.52 L635.7,96.63 L636.01,95.76 L636.36,94.9 L636.73,94.05 L637.13,93.2 L637.56,92.36 L638,91.54 L638.46,90.73 L638.94,89.94 L639.45,89.16 L639.99,88.39 L640.55,87.64 L641.13,86.9 L641.73,86.18 L642.34,85.48 L642.97,84.81 L643.62,84.16 L644.3,83.51 L645,82.89 L645.72,82.28 L646.45,81.69 L647.19,81.12 L647.94,80.57 L648.7,80.05 L649.48,79.55 L650.28,79.07 L651.09,78.6 L651.9,78.13 L652.71,77.67 L653.52,77.2 L654.32,76.71 L655.1,76.22 L655.89,75.71 L656.67,75.21 L657.45,74.7 L658.23,74.19 L659.01,73.68 L659.79,73.16 L660.56,72.64 L661.33,72.12 L662.1,71.6 L662.87,71.07 L663.64,70.54 L664.4,70"/>
<path d="M650,147.2 L650.34,148.52 L650.8,149.35 L651.36,149.6 L652.18,149.24 L653.02,148.59 L653.53,147.94 L653.94,147.19 L654.29,146.35 L654.59,145.44 L654.88,144.48 L655.15,143.51 L655.42,142.55 L655.72,141.63 L656.04,140.75 L656.35,139.86 L656.65,138.97 L656.96,138.08 L657.27,137.19 L657.6,136.31 L657.94,135.44 L658.29,134.58 L658.67,133.72 L659.05,132.85 L659.46,131.99 L659.87,131.14 L660.31,130.3 L660.76,129.48 L661.23,128.68 L661.73,127.91 L662.26,127.15 L662.83,126.41 L663.43,125.68 L664.05,124.97 L664.7,124.27 L665.35,123.58 L666,122.9 L666.66,122.24 L667.32,121.58 L668,120.92 L668.69,120.28 L669.38,119.64 L670.09,119.02 L670.81,118.41 L671.53,117.81 L672.27,117.23 L673.01,116.66 L673.77,116.13 L674.56,115.62 L675.37,115.14 L676.19,114.66 L677.01,114.19 L677.82,113.72 L678.62,113.22 L679.39,112.7 L680.15,112.14 L680.95,111.57 L681.69,110.96 L682.26,110.27 L682.6,109.4"/>
<path d="M694.5,226.7 L694.92,227.88 L695.42,228.59 L695.98,228.79 L696.72,228.43 L697.49,227.76 L698.01,227.1 L698.43,226.39 L698.78,225.6 L699.09,224.75 L699.38,223.88 L699.67,223 L699.98,222.14 L700.32,221.32 L700.67,220.51 L701.02,219.69 L701.37,218.88 L701.72,218.07 L702.09,217.27 L702.46,216.47 L702.85,215.68 L703.26,214.9 L703.68,214.13 L704.12,213.36 L704.57,212.6 L705.04,211.85 L705.52,211.1 L706.01,210.37 L706.52,209.65 L707.03,208.95 L707.57,208.25 L708.12,207.56 L708.69,206.88 L709.28,206.21 L709.87,205.55 L710.48,204.91 L711.1,204.28 L711.73,203.67 L712.37,203.08 L713.03,202.5 L713.71,201.93 L714.39,201.37 L715.09,200.82 L715.8,200.29 L716.52,199.77 L717.24,199.26 L717.97,198.76 L718.7,198.28 L719.45,197.82 L720.22,197.39 L721,196.97 L721.79,196.55 L722.57,196.13 L723.35,195.71 L724.12,195.27 L724.86,194.81 L725.58,194.31 L726.36,193.79 L726.91,193.17 L727.1,192.3"/>
<path d="M733.5,295 L734.04,294.51 L734.56,294.01 L735.06,293.49 L735.53,292.96 L735.99,292.41 L736.42,291.83 L736.84,291.25 L737.25,290.65 L737.65,290.05 L738.05,289.44 L738.44,288.84 L738.84,288.23 L739.22,287.62 L739.59,287 L739.95,286.37 L740.31,285.75 L740.67,285.12 L741.04,284.5 L741.41,283.88 L741.8,283.28 L742.2,282.68 L742.62,282.11 L743.05,281.53 L743.49,280.96 L743.94,280.39 L744.41,279.82 L744.88,279.27 L745.36,278.73 L745.86,278.2 L746.36,277.69 L746.87,277.19 L747.4,276.71 L747.93,276.24 L748.49,275.78 L749.05,275.32 L749.63,274.86 L750.22,274.42 L750.82,274 L751.43,273.6 L752.04,273.22 L752.67,272.87 L753.3,272.54 L753.93,272.25 L754.58,271.98 L755.25,271.73 L755.92,271.49 L756.61,271.26 L757.31,271.05 L758,270.84 L758.71,270.64 L759.41,270.44 L760.11,270.25 L760.81,270.05 L761.5,269.86 L762.2,269.68 L762.9,269.5 L763.6,269.33 L764.3,269.16 L765,269"/>
</g>
<g font-size="11.4" fill="#8c8c8c">
<text x="571" y="50">40</text>
<text x="597.3" y="95.3">20</text>
<text x="609.4" y="124.8">15</text>
<text x="633.5" y="157.6">10</text>
<text x="681.5" y="237.3">5</text>
<text x="717.8" y="300.9">3</text>
</g>
<circle cx="619.3" cy="91.8" r="3.05" fill="#e1278b" stroke="#1a0510" stroke-width="0.85"/>
<circle cx="640.1" cy="88.1" r="3.05" fill="#a51a62" stroke="#1a0510" stroke-width="0.85"/>
<circle cx="640.4" cy="98.4" r="3.05" fill="#a51a62" stroke="#1a0510" stroke-width="0.85"/>
<circle cx="655.9" cy="91.6" r="3.05" fill="#7a1248" stroke="#1a0510" stroke-width="0.85"/>
<circle cx="661.3" cy="88.1" r="3.05" fill="#5c0c39" stroke="#1a0510" stroke-width="0.85"/>
<circle cx="663.9" cy="100.1" r="3.05" fill="#6a0e3f" stroke="#1a0510" stroke-width="0.85"/>
<circle cx="624.5" cy="104.6" r="3.05" fill="#e1278b" stroke="#1a0510" stroke-width="0.85"/>
<circle cx="632.4" cy="115" r="3.05" fill="#e1278b" stroke="#1a0510" stroke-width="0.85"/>
<circle cx="637.6" cy="116" r="3.05" fill="#e1278b" stroke="#1a0510" stroke-width="0.85"/>
<circle cx="658.7" cy="113.7" r="3.05" fill="#8c1656" stroke="#1a0510" stroke-width="0.85"/>
<circle cx="653.4" cy="128.3" r="3.05" fill="#c0206f" stroke="#1a0510" stroke-width="0.85"/>
<path d="M591.5,31.9 L593.13,36.26 L597.78,36.46 L594.14,39.36 L595.38,43.84 L591.5,41.27 L587.62,43.84 L588.86,39.36 L585.22,36.46 L589.87,36.26Z" fill="#d2600f" stroke="#231f20" stroke-width="0.7" stroke-linejoin="miter"/>
<path d="M624.7,104 L626.33,108.36 L630.98,108.56 L627.34,111.46 L628.58,115.94 L624.7,113.37 L620.82,115.94 L622.06,111.46 L618.42,108.56 L623.07,108.36Z" fill="#7a70c6" stroke="#231f20" stroke-width="0.7" stroke-linejoin="miter"/>
<path d="M731.4,283 L733.03,287.36 L737.68,287.56 L734.04,290.46 L735.28,294.94 L731.4,292.37 L727.52,294.94 L728.76,290.46 L725.12,287.56 L729.77,287.36Z" fill="#1e9a72" stroke="#231f20" stroke-width="0.7" stroke-linejoin="miter"/>
<circle cx="573.6" cy="284" r="3" fill="none" stroke="#231f20" stroke-width="0.9"/>
<path d="M573.5,292.8 L575.08,297.03 L579.59,297.22 L576.06,300.03 L577.26,304.38 L573.5,301.89 L569.74,304.38 L570.94,300.03 L567.41,297.22 L571.92,297.03Z" fill="none" stroke="#231f20" stroke-width="0.9"/>
<g font-size="14"><text x="588.3" y="287.7">Observed stars</text><text x="588.3" y="302.9">Simulations</text></g>
</svg></body></html>
